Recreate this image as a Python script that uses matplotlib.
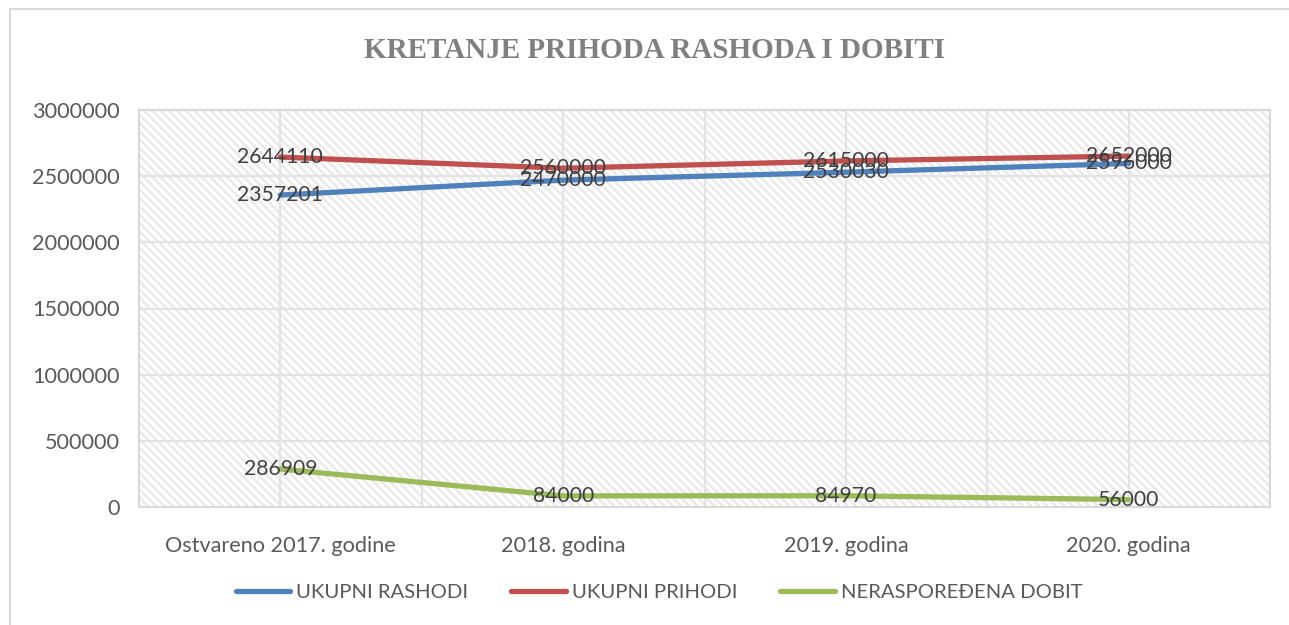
import numpy as np
import matplotlib.pyplot as plt
from matplotlib.patches import Rectangle

# podaci
godine = ["Ostvareno 2017. godine", "2018. godina", "2019. godina", "2020. godina"]
rashodi = [2357201, 2470000, 2530030, 2596000]
prihodi = [2644110, 2560000, 2615000, 2652000]
dobit = [286909, 84000, 84970, 56000]
nazivi = ["UKUPNI RASHODI", "UKUPNI PRIHODI", "NERASPOREĐENA DOBIT"]
boje = ["#4F81BD", "#C0504D", "#9BBB59"]
y_ticks = [0, 500000, 1000000, 1500000, 2000000, 2500000, 3000000]

plt.rcParams['font.family'] = ['Lato', 'DejaVu Sans']
plt.rcParams['hatch.linewidth'] = 1.7

fig = plt.figure(figsize=(12.89, 6.25), dpi=100)
W, H = 1289, 625

# okvir oko cijelog grafikona
fig.patches.append(Rectangle((10 / W, -0.05), 1.1, 1 - 9 / H + 0.05,
                             transform=fig.transFigure, fill=False,
                             edgecolor="#d9d9d9", lw=1.5, zorder=0))

ax = fig.add_axes([139 / W, 1 - 507 / H, (1270 - 139) / W, (507 - 110) / H])

# šrafirana pozadina
ax.add_patch(Rectangle((0, 0), 1, 1, transform=ax.transAxes, facecolor="white",
                       edgecolor="#e9e9e9", hatch="\\\\\\\\", lw=0, zorder=0))

x = np.arange(len(godine))
for serija, naziv, boja in zip([rashodi, prihodi, dobit], nazivi, boje):
    ax.plot(x, serija, color=boja, lw=3.8, label=naziv, solid_capstyle='round', zorder=3)
    for xi, v in zip(x, serija):
        ax.text(xi, v, str(v), ha="center", va="center", fontsize=15.2,
                color="#404040", zorder=4)

ax.set_xlim(-0.5, len(godine) - 0.5)
ax.set_ylim(0, 3000000)
ax.set_yticks(y_ticks)
ax.set_yticklabels([str(t) for t in y_ticks])
ax.set_xticks(x)
ax.set_xticklabels(godine)
ax.tick_params(length=0, labelsize=15.6, labelcolor="#595959")
ax.tick_params(axis="y", pad=14)
ax.tick_params(axis="x", pad=21)

# mreža
for yt in y_ticks[1:]:
    ax.axhline(yt, color="#e3e3e3", lw=1.6, zorder=1)
for xv in np.arange(-0.5, len(godine), 0.5)[1:]:
    ax.axvline(xv, color="#e3e3e3", lw=1.6, zorder=1)

for s in ax.spines.values():
    s.set_color("#d9d9d9")
    s.set_linewidth(1.5)

fig.text(655 / W, 1 - 50 / H, "KRETANJE PRIHODA RASHODA I DOBITI",
         ha="center", va="center", fontsize=21, fontweight="bold",
         color="#808080", family=["Liberation Serif", "DejaVu Serif"])

fig.legend(loc="center", bbox_to_anchor=(659 / W, 1 - 592 / H), ncol=3,
           frameon=False, fontsize=14.6, labelcolor="#595959",
           handlelength=2.7, handletextpad=0.3, columnspacing=2.1)

fig.savefig("out.png", dpi=100)
